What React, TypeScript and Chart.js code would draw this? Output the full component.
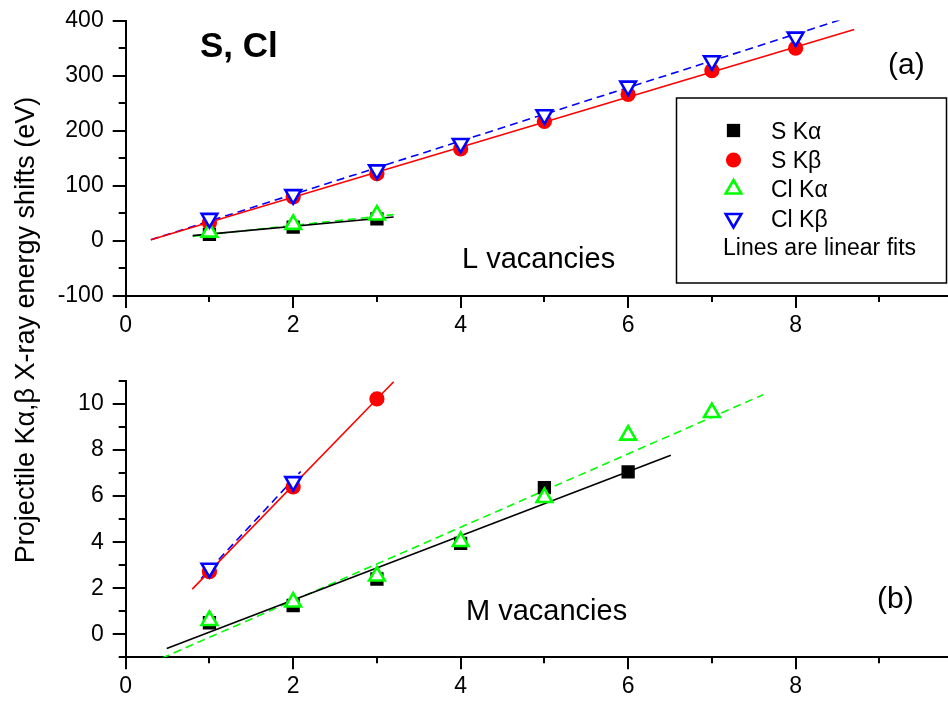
import React, { useEffect, useRef } from 'react';
import { Chart, registerables } from 'chart.js';
import { drawPoint } from 'chart.js/helpers';

Chart.register(...registerables);

const W = 948;
const H = 701;
const FONT = '"Liberation Sans", Arial, Helvetica, sans-serif';

// ---------- shared x axis ----------
const X_MIN = 0;
const X_MAX = 9.82;
const xMajorTicks = [0, 2, 4, 6, 8];

// ---------- panel (a): L vacancies ----------
const aYMin = -100;
const aYMax = 400;
const aYMajorTicks = [-100, 0, 100, 200, 300, 400];

const aSKaX = [1, 2, 3];
const aSKa = [12, 25, 40];
const aSKbX = [1, 2, 3, 4, 5, 6, 7, 8];
const aSKb = [33, 80, 122, 167, 217, 266, 309, 350];
const aClKaX = [1, 2, 3];
const aClKa = [16, 30, 47];
const aClKbX = [1, 2, 3, 4, 5, 6, 7, 8];
const aClKb = [41, 84, 129, 177, 229, 281, 327, 370];

const aFitSKaX = [0.8, 3.2];
const aFitSKa = [9.6, 43.5];
const aFitSKbX = [0.3, 8.7];
const aFitSKb = [2, 384];
const aFitClKaX = [0.8, 3.2];
const aFitClKa = [8.5, 47.7];
const aFitClKbX = [0.3, 8.63];
const aFitClKb = [2, 406];

// ---------- panel (b): M vacancies ----------
const bYMin = -1;
const bYMax = 11;
const bYMajorTicks = [0, 2, 4, 6, 8, 10];

const bSKaX = [1, 2, 3, 4, 5, 6];
const bSKa = [0.5, 1.25, 2.4, 3.95, 6.37, 7.05];
const bSKbX = [1, 2, 3];
const bSKb = [2.72, 6.4, 10.22];
const bClKaX = [1, 2, 3, 4, 5, 6, 7];
const bClKa = [0.6, 1.4, 2.53, 4.03, 5.94, 8.65, 9.63];
const bClKbX = [1, 2];
const bClKb = [2.87, 6.63];

const bFitSKaX = [0.49, 6.51];
const bFitSKa = [-0.62, 7.78];
const bFitSKbX = [0.795, 3.2];
const bFitSKb = [1.96, 10.97];
const bFitClKaX = [0.43, 7.61];
const bFitClKa = [-1.04, 10.4];
const bFitClKbX = [0.9, 2.09];
const bFitClKb = [2.42, 7.07];

// ---------- legend ----------
const legendLabels = ['S K\u03b1', 'S K\u03b2', 'Cl K\u03b1', 'Cl K\u03b2'];
const legendNote = 'Lines are linear fits';
const yTitle = 'Projectile K\u03b1,\u03b2 X-ray energy shifts (eV)';

// ---------- styles ----------
const RED = '#ff0000';
const GREEN = '#00ff00';
const BLUE = '#0000ff';
const BLACK = '#000000';

const markerStyles = [
  { pointStyle: 'rect', radius: 9.4, bg: BLACK, border: BLACK, bw: 0, rotation: 0 },
  { pointStyle: 'circle', radius: 7.6, bg: RED, border: RED, bw: 0, rotation: 0 },
  { pointStyle: 'triangle', radius: 9, bg: '#ffffff', border: GREEN, bw: 2.6, rotation: 0 },
  { pointStyle: 'triangle', radius: 9, bg: '#ffffff', border: BLUE, bw: 2.6, rotation: 180 },
];
const fitStyles = [
  { color: BLACK, dash: [] as number[] },
  { color: RED, dash: [] as number[] },
  { color: GREEN, dash: [8, 5] },
  { color: BLUE, dash: [8, 5] },
];

const AREA_LEFT = 125.7;
const TICK_FONT_SIZE = 23;

const zip = (xs: number[], ys: number[]) => xs.map((x, i) => ({ x, y: ys[i] }));

function markerDataset(label: string, xs: number[], ys: number[], k: number) {
  const m = markerStyles[k];
  return {
    label,
    data: zip(xs, ys),
    showLine: false,
    pointStyle: m.pointStyle,
    pointRadius: m.radius,
    pointRotation: m.rotation,
    pointBackgroundColor: m.bg,
    pointBorderColor: m.border,
    pointBorderWidth: m.bw,
    backgroundColor: m.bg,
    borderColor: m.border,
    order: 4 - k,
  };
}

function fitDataset(xs: number[], ys: number[], k: number) {
  const f = fitStyles[k];
  return {
    label: 'fit',
    data: zip(xs, ys),
    showLine: true,
    pointRadius: 0,
    borderColor: f.color,
    borderWidth: 1.6,
    borderDash: f.dash,
    fill: false,
    order: 10,
  };
}

const tickMarks = {
  id: 'tickMarks',
  afterDraw(chart: any) {
    const ctx = chart.ctx;
    const xs = chart.scales.x;
    const ys = chart.scales.y;
    ctx.save();
    ctx.strokeStyle = BLACK;
    ctx.lineWidth = 2;
    ctx.beginPath();
    xs.ticks.forEach((t: any) => {
      const px = Math.round(xs.getPixelForValue(t.value));
      const len = t.label ? 12 : 6;
      ctx.moveTo(px, xs.top);
      ctx.lineTo(px, xs.top + len);
    });
    ys.ticks.forEach((t: any) => {
      const py = Math.round(ys.getPixelForValue(t.value));
      const len = t.label ? 13 : 7;
      ctx.moveTo(ys.right - len, py);
      ctx.lineTo(ys.right, py);
    });
    ctx.stroke();
    ctx.restore();
  },
};

function textPlugin(panel: 'a' | 'b') {
  return {
    id: 'texts_' + panel,
    afterDraw(chart: any) {
      const ctx = chart.ctx;
      ctx.save();
      ctx.fillStyle = BLACK;
      ctx.textAlign = 'left';
      ctx.textBaseline = 'alphabetic';
      if (panel === 'a') {
        ctx.font = `bold 35px ${FONT}`;
        ctx.fillText('S, Cl', 200, 57);
        ctx.font = `30px ${FONT}`;
        ctx.textBaseline = 'middle';
        ctx.fillText('(a)', 888, 66);
        ctx.textBaseline = 'alphabetic';
        ctx.font = `29px ${FONT}`;
        ctx.fillText('L vacancies', 462, 268);

        // legend box
        ctx.strokeStyle = BLACK;
        ctx.lineWidth = 1.5;
        ctx.strokeRect(676.5, 98, 270, 185);
        ctx.font = `23px ${FONT}`;
        const rowBase = [138.5, 168, 197, 226.5];
        legendLabels.forEach((lab, i) => {
          const m = markerStyles[i];
          ctx.fillStyle = m.bg;
          ctx.strokeStyle = m.border;
          ctx.lineWidth = m.bw;
          drawPoint(ctx, { pointStyle: m.pointStyle, radius: m.radius, rotation: m.rotation, borderWidth: m.bw }, 733.5, rowBase[i] - 8);
          ctx.fillStyle = BLACK;
          ctx.fillText(lab, 771, rowBase[i]);
        });
        ctx.fillText(legendNote, 723, 255);
      } else {
        ctx.font = `30px ${FONT}`;
        ctx.textBaseline = 'middle';
        ctx.fillText('(b)', 877, 600);
        ctx.textBaseline = 'alphabetic';
        ctx.font = `29px ${FONT}`;
        ctx.fillText('M vacancies', 466, 620);

        // shared y-axis title
        ctx.save();
        ctx.translate(34, 330);
        ctx.rotate(-Math.PI / 2);
        ctx.textAlign = 'center';
        ctx.font = `27px ${FONT}`;
        ctx.fillText(yTitle, 0, 0);
        ctx.restore();
      }
      ctx.restore();
    },
  };
}

function makeConfig(panel: 'a' | 'b') {
  const isA = panel === 'a';
  const top = isA ? 20.6 : 381;
  const bottom = isA ? 296 : 657.3;
  const datasets = isA
    ? [
        markerDataset(legendLabels[3], aClKbX, aClKb, 3),
        markerDataset(legendLabels[2], aClKaX, aClKa, 2),
        markerDataset(legendLabels[1], aSKbX, aSKb, 1),
        markerDataset(legendLabels[0], aSKaX, aSKa, 0),
        fitDataset(aFitSKaX, aFitSKa, 0),
        fitDataset(aFitSKbX, aFitSKb, 1),
        fitDataset(aFitClKaX, aFitClKa, 2),
        fitDataset(aFitClKbX, aFitClKb, 3),
      ]
    : [
        markerDataset(legendLabels[3], bClKbX, bClKb, 3),
        markerDataset(legendLabels[2], bClKaX, bClKa, 2),
        markerDataset(legendLabels[1], bSKbX, bSKb, 1),
        markerDataset(legendLabels[0], bSKaX, bSKa, 0),
        fitDataset(bFitSKaX, bFitSKa, 0),
        fitDataset(bFitSKbX, bFitSKb, 1),
        fitDataset(bFitClKaX, bFitClKa, 2),
        fitDataset(bFitClKbX, bFitClKb, 3),
      ];
  const yMajors = isA ? aYMajorTicks : bYMajorTicks;
  return {
    type: 'scatter' as const,
    data: { datasets },
    options: {
      responsive: false,
      animation: false as const,
      events: [] as any[],
      layout: { autoPadding: false, padding: { top, left: 0, right: 0, bottom: 0 } },
      plugins: { legend: { display: false }, tooltip: { enabled: false } },
      scales: {
        x: {
          type: 'linear' as const,
          min: X_MIN,
          max: X_MAX,
          afterFit: (s: any) => {
            s.height = H - bottom;
            s.paddingLeft = 0;
            s.paddingRight = 0;
          },
          grid: { display: false, drawTicks: false },
          border: { display: true, color: BLACK, width: 2 },
          ticks: {
            stepSize: 1,
            includeBounds: false,
            autoSkip: false,
            maxRotation: 0,
            padding: 16,
            color: BLACK,
            font: { family: FONT, size: TICK_FONT_SIZE },
            callback: (v: any) => (xMajorTicks.includes(Number(v)) ? String(v) : ''),
          },
        },
        y: {
          type: 'linear' as const,
          min: isA ? aYMin : bYMin,
          max: isA ? aYMax : bYMax,
          afterFit: (s: any) => {
            s.width = AREA_LEFT;
            s.paddingTop = 0;
            s.paddingBottom = 0;
          },
          grid: { display: false, drawTicks: false },
          border: { display: true, color: BLACK, width: 2 },
          ticks: {
            stepSize: isA ? 50 : 1,
            autoSkip: false,
            padding: 22,
            color: BLACK,
            font: { family: FONT, size: TICK_FONT_SIZE },
            callback: (v: any) => (yMajors.includes(Number(v)) ? String(v) : ''),
          },
        },
      },
    },
    plugins: [tickMarks, textPlugin(panel)],
  };
}

function Panel({ panel }: { panel: 'a' | 'b' }) {
  const ref = useRef<HTMLCanvasElement | null>(null);
  useEffect(() => {
    if (!ref.current) return;
    const chart = new Chart(ref.current, makeConfig(panel) as any);
    return () => chart.destroy();
  }, [panel]);
  return (
    <canvas
      ref={ref}
      width={W}
      height={H}
      style={{ position: 'absolute', left: 0, top: 0, width: W, height: H }}
    />
  );
}

export default function App() {
  return (
    <div style={{ position: 'fixed', left: 0, top: 0, width: W, height: H, background: '#fff', overflow: 'hidden' }}>
      <Panel panel="a" />
      <Panel panel="b" />
    </div>
  );
}
